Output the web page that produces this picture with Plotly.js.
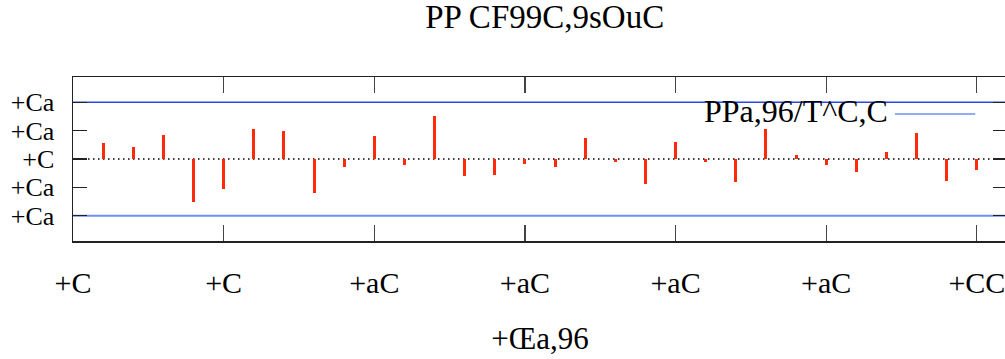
<!DOCTYPE html>
<html>
<head>
<meta charset="utf-8">
<script src="https://cdn.plot.ly/plotly-3.0.1.min.js"></script>
<style>
  html, body { margin: 0; padding: 0; overflow: hidden; background: #fff; }
  #chart { width: 1015px; height: 359px; }
</style>
</head>
<body>
<div id="chart"></div>
<script>
// Autocorrelation by lag, with the confidence band drawn as two flat lines.
const lags = [1, 2, 3, 4, 5, 6, 7, 8, 9, 10, 11, 12, 13, 14, 15,
              16, 17, 18, 19, 20, 21, 22, 23, 24, 25, 26, 27, 28, 29, 30];
const acfValues = [0.057, 0.043, 0.083, -0.153, -0.106, 0.105, 0.097, -0.120, -0.028, 0.081,
                   -0.020, 0.150, -0.060, -0.058, -0.018, -0.027, 0.073, -0.010, -0.089, 0.060,
                   -0.010, -0.080, 0.104, 0.014, -0.021, -0.046, 0.026, 0.090, -0.076, -0.039];
const bandLevels = [0.2, -0.2];
const lagRange = [0, 31];

const xTickVals = [0, 5, 10, 15, 20, 25, 30];
const xTickText = ['+C', '+C', '+aC', '+aC', '+aC', '+aC', '+CC'];
const yTickVals = [-0.2, -0.1, 0, 0.1, 0.2];
const yTickText = ['+Ca', '+Ca', '+C', '+Ca', '+Ca'];

const titleText = 'PP CF99C,9sOuC';
const xTitleText = '+Œa,96';
const legendText = 'PPa,96/T^C,C';

const face = '"Liberation Serif", "Liberation Sans", Arial, sans-serif';

const traces = [
  {
    type: 'bar',
    x: lags,
    y: acfValues,
    width: 0.1,
    marker: { color: '#ff2a0a', line: { width: 0 } },
    showlegend: false,
    hoverinfo: 'x+y'
  },
  {
    type: 'scatter',
    mode: 'lines',
    x: lagRange,
    y: [bandLevels[0], bandLevels[0]],
    line: { color: '#2a48e4', width: 1.5 },
    showlegend: false
  },
  {
    type: 'scatter',
    mode: 'lines',
    x: lagRange,
    y: [bandLevels[1], bandLevels[1]],
    line: { color: '#6f8ef2', width: 2 },
    showlegend: false
  }
];

const layout = {
  width: 1015,
  height: 359,
  margin: { l: 73, r: 8, t: 77, b: 118 },
  paper_bgcolor: '#ffffff',
  plot_bgcolor: '#ffffff',
  showlegend: false,
  bargap: 0,
  font: { family: face, color: '#000' },
  title: {
    text: titleText,
    font: { family: face, size: 33, color: '#000' },
    xref: 'paper', x: 0.505, xanchor: 'center',
    yref: 'container', y: 0.953, yanchor: 'middle'
  },
  xaxis: {
    range: lagRange,
    tickmode: 'array',
    tickvals: xTickVals,
    ticktext: xTickText,
    ticks: 'inside',
    ticklen: 16,
    tickwidth: 1.2,
    tickcolor: '#444',
    showline: true,
    linecolor: '#222',
    linewidth: 1.5,
    mirror: 'ticks',
    showgrid: false,
    zeroline: false,
    tickfont: { family: face, size: 30, color: '#000' },
    ticklabelstandoff: 14,
    title: { text: xTitleText, font: { family: face, size: 31, color: '#000' }, standoff: 30 }
  },
  yaxis: {
    range: [-0.289, 0.289],
    tickmode: 'array',
    tickvals: yTickVals,
    ticktext: yTickText,
    ticks: 'inside',
    ticklen: 14,
    tickwidth: 1.2,
    tickcolor: '#222',
    showline: true,
    linecolor: '#222',
    linewidth: 1.5,
    mirror: 'ticks',
    showgrid: false,
    zeroline: false,
    tickfont: { family: face, size: 26, color: '#000' },
    ticklabelstandoff: 12
  },
  shapes: [
    // dotted zero reference line
    { type: 'line', xref: 'paper', x0: 0, x1: 1, yref: 'y', y0: 0, y1: 0,
      line: { color: '#000', width: 1.5, dash: '1.5px,3.5px' }, layer: 'below' },
    // key sample for the band line
    { type: 'line', xref: 'paper', x0: 0.880, x1: 0.966, yref: 'paper', y0: 0.774, y1: 0.774,
      line: { color: '#6f8ef2', width: 1.5 } }
  ],
  annotations: [
    { text: legendText, xref: 'paper', x: 0.673, xanchor: 'left',
      yref: 'paper', y: 0.793, yanchor: 'middle', showarrow: false,
      font: { family: face, size: 32, color: '#000' } }
  ]
};

Plotly.newPlot('chart', traces, layout, { displayModeBar: false, staticPlot: true });
</script>
</body>
</html>
